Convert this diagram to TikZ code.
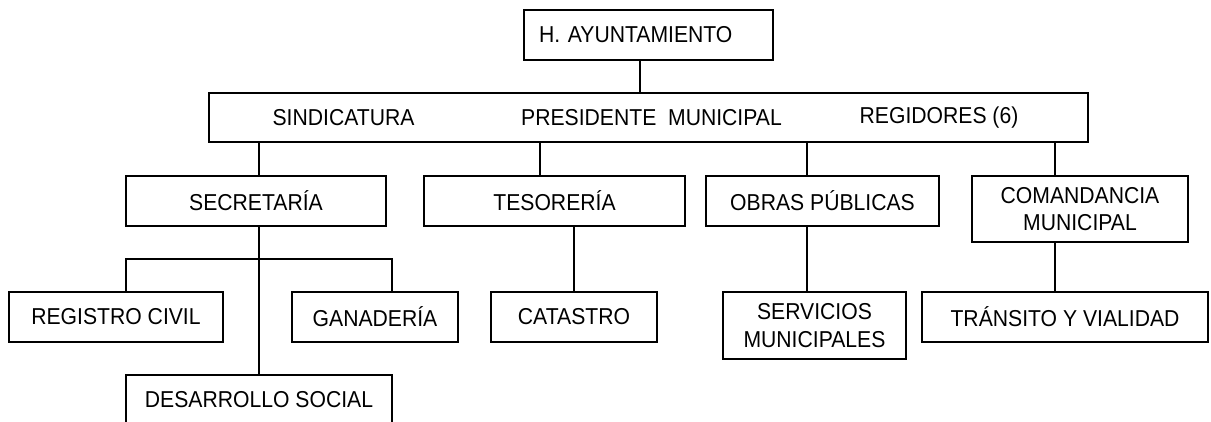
\documentclass[tikz,border=0pt]{standalone}
\usepackage{fontspec}
\setmainfont{Liberation Sans}[FakeStretch=0.92]
\usetikzlibrary{positioning}

\begin{document}
\begin{tikzpicture}[x=1pt, y=-1pt,
    every node/.style={font=\fontsize{23}{27.5}\selectfont},
    box/.style={draw, line width=1.5pt, inner sep=0pt, align=center},
    link/.style={line width=1.2pt}]
    % Frame
    \useasboundingbox (0,0) rectangle (1211,421);
    % Top
    \node[box, minimum width=249, minimum height=50, text width=219, inner xsep=15pt, align=left] (ayto) at (648.5,35) {H.\ AYUNTAMIENTO};
    % Council box and its three texts
    \node[box, minimum width=879, minimum height=49] (gob) at (648.5,117.5) {};
    \node[draw=none] (sind) at (343.5,117.5) {SINDICATURA};
    \node[draw=none] (pres) at (651.5,117.5) {PRESIDENTE\ \ MUNICIPAL};
    \node[draw=none] (regi) at (939,117.5) {REGIDORES (6)};
    % Second row
    \node[box, minimum width=260, minimum height=50] (secre) at (256,201) {SECRETARÍA};
    \node[box, minimum width=261, minimum height=50] (teso) at (554.5,201) {TESORERÍA};
    \node[box, minimum width=233, minimum height=50] (obras) at (822.5,201) {OBRAS PÚBLICAS};
    \node[box, minimum width=216, minimum height=66] (coman) at (1080,209) {COMANDANCIA\\MUNICIPAL};
    % Third row
    \node[box, minimum width=214, minimum height=50] (regis) at (116,317) {REGISTRO CIVIL};
    \node[box, minimum width=166, minimum height=50] (gana) at (375,317) {GANADERÍA};
    \node[box, minimum width=166, minimum height=50] (cata) at (574,317) {CATASTRO};
    \node[box, minimum width=183, minimum height=67] (serv) at (814.5,325.5) {SERVICIOS\\MUNICIPALES};
    \node[box, minimum width=286, minimum height=50] (tran) at (1065,317) {TRÁNSITO Y VIALIDAD};
    % Last one, cut by the page
    \node[box, minimum width=266, minimum height=50] (desa) at (259,400) {DESARROLLO SOCIAL};
    % Vertical connectors
    \foreach \a/\b/\x in {ayto/gob/640, gob/secre/259, gob/teso/540, gob/obras/807, gob/coman/1055,
                          teso/cata/574, obras/serv/807, coman/tran/1055, secre/desa/259}
    {
        \coordinate (k) at (\x,0);
        \draw[link] (\a.south -| k) -- (\b.north -| k);
    }
    % Branch to Registro and Ganaderia
    \coordinate (bar) at (259,259);
    \coordinate (kl) at (126,0);
    \coordinate (kr) at (392,0);
    \draw[link] (regis.north -| kl) |- (bar) -| (gana.north -| kr);
\end{tikzpicture}
\end{document}
